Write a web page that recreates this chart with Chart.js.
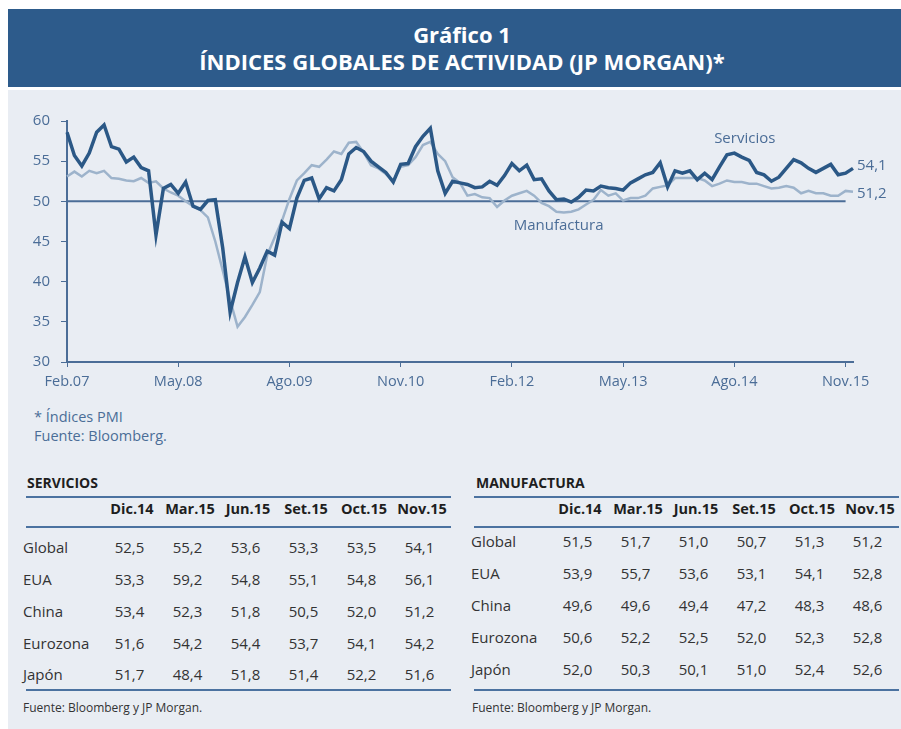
<!DOCTYPE html>
<html lang="es">
<head>
<meta charset="UTF-8">
<title>Gráfico 1 - Índices globales de actividad</title>
<script src="https://cdn.jsdelivr.net/npm/chart.js"></script>
<style>
  body { margin: 0; width: 901px; height: 729px; background: #fff; font-family: "Open Sans", sans-serif; position: relative; overflow: hidden; }
  #head { position: absolute; left: 8px; top: 9px; width: 893px; height: 78px; background: #2d5b8b; color: #fff; text-align: center; font-weight: bold; font-size: 22px; line-height: 27px; }
  #head div { padding-top: 12px; padding-left: 15px; }
  #panel { position: absolute; left: 8px; top: 90px; width: 893px; height: 639px; background: #e9edf3; }
  #chartBox { position: absolute; left: 0; top: 100px; }
  .note { position: absolute; left: 34px; color: #4b6d97; font-size: 14.5px; line-height: 19px; }
  .ttl { position: absolute; top: 473px; font-weight: bold; font-size: 14px; color: #1e1e1e; }
  table { position: absolute; top: 496px; width: 425px; border-collapse: collapse; table-layout: fixed; color: #333; }
  th { font-size: 14.5px; font-weight: bold; color: #1e1e1e; line-height: 22px; padding: 0 0 6px 0; text-align: center; }
  thead tr { border-top: 2px solid #4b72a0; border-bottom: 2px solid #4b72a0; }
  tbody tr:last-child { border-bottom: 2px solid #4b72a0; }
  td { font-size: 15px; line-height: 32px; padding: 0; text-align: center; }
  td:first-child { text-align: left; text-indent: -3px; }
  td.v { padding-right: 5px; }
  #svc tbody tr:first-child td { padding-top: 3px; }
  #svc tbody tr:last-child td { line-height: 30px; }
  #mfg tbody tr:first-child td { line-height: 26px; padding-bottom: 3px; }
  #mfg tbody tr:last-child td { padding-bottom: 4px; }
  .src { position: absolute; top: 699px; font-size: 12px; color: #333; }
</style>
</head>
<body>
<div id="head"><div>Gráfico 1<br>ÍNDICES GLOBALES DE ACTIVIDAD (JP MORGAN)*</div></div>
<div id="panel"></div>
<div id="chartBox"><canvas id="pmiChart" width="901" height="300"></canvas></div>
<div class="note" style="top:407px">* Índices PMI<br>Fuente: Bloomberg.</div>

<div class="ttl" style="left:27px">SERVICIOS</div>
<table id="svc" style="left:26px"></table>
<div class="src" style="left:23px">Fuente: Bloomberg y JP Morgan.</div>

<div class="ttl" style="left:476px">MANUFACTURA</div>
<table id="mfg" style="left:474px"></table>
<div class="src" style="left:472px">Fuente: Bloomberg y JP Morgan.</div>

<script>
// monthly PMI, Jan 2007 - Nov 2015
const servicios = [
  58.6, 55.7, 54.4, 56.0, 58.6, 59.5, 56.8, 56.5, 54.9, 55.5, 54.2, 53.8,
  45.8, 51.6, 52.1, 51.0, 52.4, 49.4, 49.0, 50.1, 50.2, 44.2, 36.2, 39.9,
  43.1, 39.9, 41.7, 43.8, 43.3, 47.4, 46.6, 50.4, 52.6, 52.9, 50.3, 51.7,
  51.3, 52.7, 55.9, 56.7, 56.2, 55.0, 54.3, 53.6, 52.4, 54.6, 54.7, 56.8,
  58.1, 59.1, 53.8, 51.0, 52.5, 52.3, 52.1, 51.7, 51.8, 52.5, 52.0, 53.2,
  54.7, 53.8, 54.5, 52.7, 52.8, 51.3, 50.2, 50.3, 49.9, 50.5, 51.4, 51.3,
  51.9, 51.7, 51.6, 51.4, 52.3, 52.8, 53.3, 53.6, 54.8, 51.8, 53.8, 53.5,
  53.8, 52.7, 53.5, 52.7, 54.3, 55.8, 56.0, 55.5, 55.1, 53.6, 53.3, 52.5,
  53.0, 54.1, 55.2, 54.8, 54.1, 53.6, 54.1, 54.6, 53.3, 53.5, 54.1
];
const manufactura = [
  53.1, 53.7, 53.1, 53.8, 53.5, 53.8, 52.9, 52.8, 52.6, 52.5, 52.9, 52.3,
  52.5, 51.6, 51.1, 50.7, 50.0, 49.4, 48.9, 48.0, 45.0, 41.4, 37.7, 34.4,
  35.6, 37.1, 38.7, 43.3, 45.5, 47.6, 50.3, 52.6, 53.5, 54.5, 54.3, 55.2,
  56.2, 55.9, 57.3, 57.4, 56.1, 54.5, 54.1, 53.4, 52.6, 54.3, 54.5, 55.5,
  57.0, 57.4, 55.9, 55.0, 53.0, 52.3, 50.7, 50.9, 50.5, 50.4, 49.3, 50.1,
  50.7, 51.0, 51.3, 50.7, 49.8, 49.4, 48.7, 48.6, 48.7, 49.0, 49.6, 50.2,
  51.4, 50.7, 51.0, 50.1, 50.4, 50.4, 50.7, 51.6, 51.8, 52.0, 52.9, 52.9,
  52.9, 52.9, 52.6, 51.9, 52.2, 52.6, 52.4, 52.4, 52.2, 52.2, 51.9, 51.6,
  51.7, 51.9, 51.7, 51.0, 51.3, 51.0, 51.0, 50.7, 50.7, 51.3, 51.2
];
const tickLabels = ['Feb.07', 'May.08', 'Ago.09', 'Nov.10', 'Feb.12', 'May.13', 'Ago.14', 'Nov.15'];
const tickEvery = 15;
const refValue = 50;
const lastLabels = ['54,1', '51,2'];

// tables
const tableCols = ['Dic.14', 'Mar.15', 'Jun.15', 'Set.15', 'Oct.15', 'Nov.15'];
const tableRows = ['Global', 'EUA', 'China', 'Eurozona', 'Japón'];
const svcTable = [
  ['52,5', '55,2', '53,6', '53,3', '53,5', '54,1'],
  ['53,3', '59,2', '54,8', '55,1', '54,8', '56,1'],
  ['53,4', '52,3', '51,8', '50,5', '52,0', '51,2'],
  ['51,6', '54,2', '54,4', '53,7', '54,1', '54,2'],
  ['51,7', '48,4', '51,8', '51,4', '52,2', '51,6']
];
const mfgTable = [
  ['51,5', '51,7', '51,0', '50,7', '51,3', '51,2'],
  ['53,9', '55,7', '53,6', '53,1', '54,1', '52,8'],
  ['49,6', '49,6', '49,4', '47,2', '48,3', '48,6'],
  ['50,6', '52,2', '52,5', '52,0', '52,3', '52,8'],
  ['52,0', '50,3', '50,1', '51,0', '52,4', '52,6']
];

function fillTable(id, rows) {
  let html = '<colgroup><col style="width:77px">' + tableCols.map(() => '<col>').join('') + '</colgroup>';
  html += '<thead><tr><th></th>' + tableCols.map(c => '<th>' + c + '</th>').join('') + '</tr></thead><tbody>';
  rows.forEach((r, i) => {
    html += '<tr><td>' + tableRows[i] + '</td>' + r.map(v => '<td class="v">' + v + '</td>').join('') + '</tr>';
  });
  html += '</tbody>';
  document.getElementById(id).innerHTML = html;
}
fillTable('svc', svcTable);
fillTable('mfg', mfgTable);

// month categories
const meses = ['Ene', 'Feb', 'Mar', 'Abr', 'May', 'Jun', 'Jul', 'Ago', 'Set', 'Oct', 'Nov', 'Dic'];
const labels = servicios.map((v, i) => meses[i % 12] + '.' + String(7 + Math.floor(i / 12)).padStart(2, '0'));

const axisColor = '#4b6d97';
const darkBlue = '#2b5886';
const lightBlue = '#9db3cb';

const textPlugin = {
  id: 'textPlugin',
  afterDatasetsDraw(chart) {
    const ctx = chart.ctx;
    const x = chart.scales.x, y = chart.scales.y;
    const last = servicios.length - 1;
    ctx.save();
    ctx.fillStyle = axisColor;
    ctx.font = '15px "Open Sans"';
    ctx.textBaseline = 'middle';
    ctx.textAlign = 'left';
    ctx.fillText(lastLabels[0], x.getPixelForValue(last) + 4, y.getPixelForValue(servicios[last]) - 3);
    ctx.fillText(lastLabels[1], x.getPixelForValue(last) + 4, y.getPixelForValue(manufactura[last]) + 2);
    ctx.textAlign = 'center';
    ctx.fillText('Servicios', x.getPixelForValue(91.4), y.getPixelForValue(57.8));
    ctx.fillText('Manufactura', x.getPixelForValue(66.3), y.getPixelForValue(47.0));
    ctx.restore();
  }
};

new Chart(document.getElementById('pmiChart'), {
  type: 'line',
  data: {
    labels: labels,
    datasets: [
      { label: 'Servicios', data: servicios, borderColor: darkBlue, borderWidth: 3.5, pointRadius: 0, tension: 0 },
      { label: 'Manufactura', data: manufactura, borderColor: lightBlue, borderWidth: 2.5, pointRadius: 0, tension: 0 },
      { label: 'ref', data: [{ x: labels[0], y: refValue }, { x: labels[tickEvery * (tickLabels.length - 1)], y: refValue }],
        borderColor: axisColor, borderWidth: 2, pointRadius: 0 }
    ]
  },
  options: {
    responsive: false,
    animation: false,
    devicePixelRatio: 1,
    layout: { padding: { top: 21, right: 48, left: 0, bottom: 0 } },
    plugins: { legend: { display: false }, tooltip: { enabled: false } },
    scales: {
      x: {
        afterFit: s => { s.height = 38; },
        grid: { drawOnChartArea: false, tickLength: 5, color: c => c.index % tickEvery === 0 ? axisColor : 'transparent' },
        border: { color: axisColor, width: 2 },
        ticks: {
          autoSkip: false, maxRotation: 0, padding: 6,
          color: axisColor, font: { family: 'Open Sans', size: 14.5 },
          callback: (v, i) => i % tickEvery === 0 ? tickLabels[i / tickEvery] : ''
        }
      },
      y: {
        min: 30, max: 60,
        afterFit: s => { s.width = 67; },
        grid: { drawOnChartArea: false, tickLength: 6, color: axisColor },
        border: { color: axisColor, width: 2 },
        ticks: { stepSize: 5, padding: 11, color: axisColor, font: { family: 'Open Sans', size: 15 } }
      }
    }
  },
  plugins: [textPlugin]
});
</script>
</body>
</html>
